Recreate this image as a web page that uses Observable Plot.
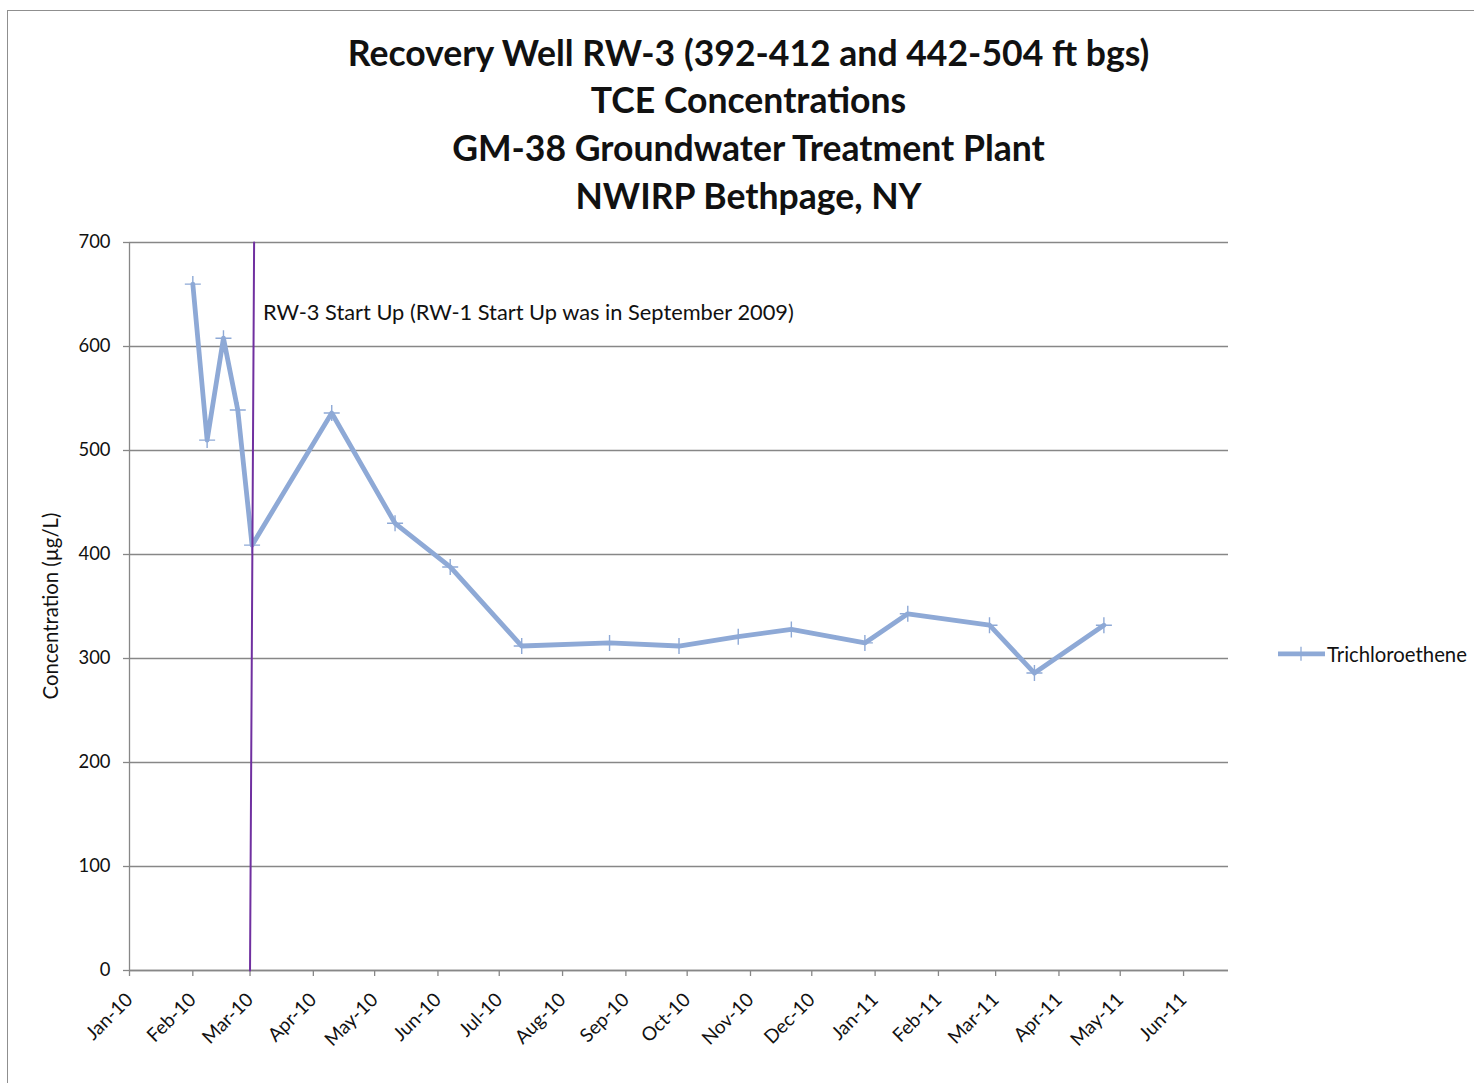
<!DOCTYPE html>
<html>
<head>
<meta charset="utf-8">
<script src="https://cdn.jsdelivr.net/npm/d3@7"></script>
<script src="https://cdn.jsdelivr.net/npm/@observablehq/plot@0.6"></script>
<style>
  html, body { margin: 0; padding: 0; background: #fff; }
  #wrap { position: relative; width: 1474px; height: 1083px; overflow: hidden; font-family: Lato, "Open Sans", sans-serif; color: #111; }
  #border { position: absolute; left: 7px; top: 10px; width: 1520px; height: 1120px; border: 1.5px solid #8f8f8f; box-sizing: border-box; }
  .tline { position: absolute; left: 0; width: 1497px; text-align: center; font-weight: 700; white-space: nowrap; transform: translateY(-50%); line-height: 1; }
  #ylabel { position: absolute; white-space: nowrap; transform: translate(-50%, -50%) rotate(-90deg); line-height: 1; }
  #legend { position: absolute; left: 1276px; top: 654px; transform: translateY(-50%); display: flex; align-items: center; white-space: nowrap; line-height: 1; }
  #chart { position: absolute; left: 0; top: 0; }
</style>
</head>
<body>
<div id="wrap">
  <div id="border"></div>
  <div id="chart"></div>
  <div id="title"></div>
  <div id="ylabel"></div>
  <div id="legend"></div>
</div>
<script>
// ---------- data ----------
const titleLines = [
  "Recovery Well RW-3 (392-412 and 442-504 ft bgs)",
  "TCE Concentrations",
  "GM-38 Groundwater Treatment Plant",
  "NWIRP Bethpage, NY"
];
const yAxisLabel = "Concentration (µg/L)";
const seriesName = "Trichloroethene";

const sampleDates = [
  "2010-02-01", "2010-02-08", "2010-02-16", "2010-02-23", "2010-03-02",
  "2010-04-10", "2010-05-11", "2010-06-07", "2010-07-12", "2010-08-24",
  "2010-09-27", "2010-10-26", "2010-11-21", "2010-12-27", "2011-01-17",
  "2011-02-26", "2011-03-20", "2011-04-23"
];
const tceValues = [660, 510, 608, 539, 409, 536, 430, 388, 312, 315, 312, 321, 328, 315, 343, 332, 286, 332];

const startupDates = ["2010-03-03", "2010-03-01"];
const startupValues = [700, 0];
const annotationText = "RW-3 Start Up (RW-1 Start Up was in September 2009)";
const annotationDate = "2010-03-02";
const annotationValue = 632;

const xDomain = ["2010-01-01", "2011-06-23"];
const xTickDates = [
  "2010-01-01", "2010-02-01", "2010-03-01", "2010-04-01", "2010-05-01", "2010-06-01",
  "2010-07-01", "2010-08-01", "2010-09-01", "2010-10-01", "2010-11-01", "2010-12-01",
  "2011-01-01", "2011-02-01", "2011-03-01", "2011-04-01", "2011-05-01", "2011-06-01"
];
const xTickLabels = [
  "Jan-10", "Feb-10", "Mar-10", "Apr-10", "May-10", "Jun-10", "Jul-10", "Aug-10", "Sep-10",
  "Oct-10", "Nov-10", "Dec-10", "Jan-11", "Feb-11", "Mar-11", "Apr-11", "May-11", "Jun-11"
];
const yTicks = [0, 100, 200, 300, 400, 500, 600, 700];

// ---------- helpers ----------
const FONT = "Lato";
const ctx = document.createElement("canvas").getContext("2d");
function fit(text, weight, target) {
  ctx.font = `${weight} 100px ${FONT}`;
  return 100 * target / ctx.measureText(text).width;
}
const parse = d3.utcParse("%Y-%m-%d");

const tce = sampleDates.map((d, i) => ({date: parse(d), value: tceValues[i]}));
const startup = startupDates.map((d, i) => ({date: parse(d), value: startupValues[i]}));
const xTicks = xTickDates.map(parse);
const labelOf = new Map(xTickDates.map((d, i) => [+parse(d), xTickLabels[i]]));

const SERIES = "#8EA9D6";
const GRID = "#878787";
const plusSymbol = {
  draw(c, size) {
    const r = Math.sqrt(size / Math.PI);
    c.moveTo(-r, 0); c.lineTo(r, 0);
    c.moveTo(0, -r); c.lineTo(0, r);
  }
};

// font sizes fitted to reference text widths
const titleSize = fit(titleLines[0], 700, 803);
const tickSize = fit("700", 400, 32);
const xTickSize = fit("Jan-10", 400, 57);
const ylabSize = fit(yAxisLabel, 400, 187);
const legSize = fit(seriesName, 400, 140);
const annSize = fit(annotationText, 400, 532);

// ---------- title ----------
const titleCenters = [53, 100, 148, 196];
const tdiv = document.getElementById("title");
titleLines.forEach((t, i) => {
  const d = document.createElement("div");
  d.className = "tline";
  d.style.top = titleCenters[i] + "px";
  d.style.fontSize = titleSize + "px";
  d.textContent = t;
  tdiv.appendChild(d);
});

// ---------- y label ----------
const yl = document.getElementById("ylabel");
yl.textContent = yAxisLabel;
yl.style.fontSize = ylabSize + "px";
yl.style.left = "50px";
yl.style.top = "606px";

// ---------- legend ----------
const leg = document.getElementById("legend");
leg.innerHTML = `<svg width="51" height="20" style="display:block"><line x1="2" x2="49" y1="10" y2="10" stroke="${SERIES}" stroke-width="4.8"/><line x1="25" x2="25" y1="3" y2="17" stroke="${SERIES}" stroke-width="1.3"/></svg><span style="font-size:${legSize}px">${seriesName}</span>`;

// ---------- plot ----------
const chart = Plot.plot({
  width: 1474,
  height: 1083,
  marginTop: 242,
  marginBottom: 113,
  marginLeft: 129,
  marginRight: 246,
  style: {fontFamily: FONT, color: "#111", background: "transparent", overflow: "visible"},
  x: {type: "utc", domain: xDomain.map(parse)},
  y: {domain: [0, 700]},
  marks: [
    Plot.gridY(yTicks, {stroke: GRID, strokeOpacity: 1, strokeWidth: 1.3}),
    Plot.ruleX([parse(xDomain[0])], {stroke: GRID, strokeWidth: 1.3}),
    Plot.ruleY([0], {stroke: GRID, strokeWidth: 1.3}),
    Plot.axisY({ticks: yTicks, tickSize: 6, tickPadding: 13, stroke: GRID, strokeWidth: 1.3, fontSize: tickSize, fill: "#111", label: null}),
    Plot.axisX({ticks: xTicks, tickFormat: d => labelOf.get(+d), tickRotate: -45, tickSize: 6, tickPadding: 20, stroke: GRID, strokeWidth: 1.3, fontSize: xTickSize, fill: "#111", label: null}),
    Plot.line(tce, {x: "date", y: "value", stroke: SERIES, strokeWidth: 4.8, strokeLinejoin: "round"}),
    Plot.dot(tce, {x: "date", y: "value", symbol: plusSymbol, r: 8, stroke: SERIES, strokeWidth: 1.4, fill: "none"}),
    Plot.line(startup, {x: "date", y: "value", stroke: "#7030A0", strokeWidth: 2}),
    Plot.text([{date: parse(annotationDate), value: annotationValue, label: annotationText}],
      {x: "date", y: "value", text: "label", textAnchor: "start", dx: 11, fontSize: annSize, fill: "#111"})
  ]
});
document.getElementById("chart").appendChild(chart);
</script>
</body>
</html>
